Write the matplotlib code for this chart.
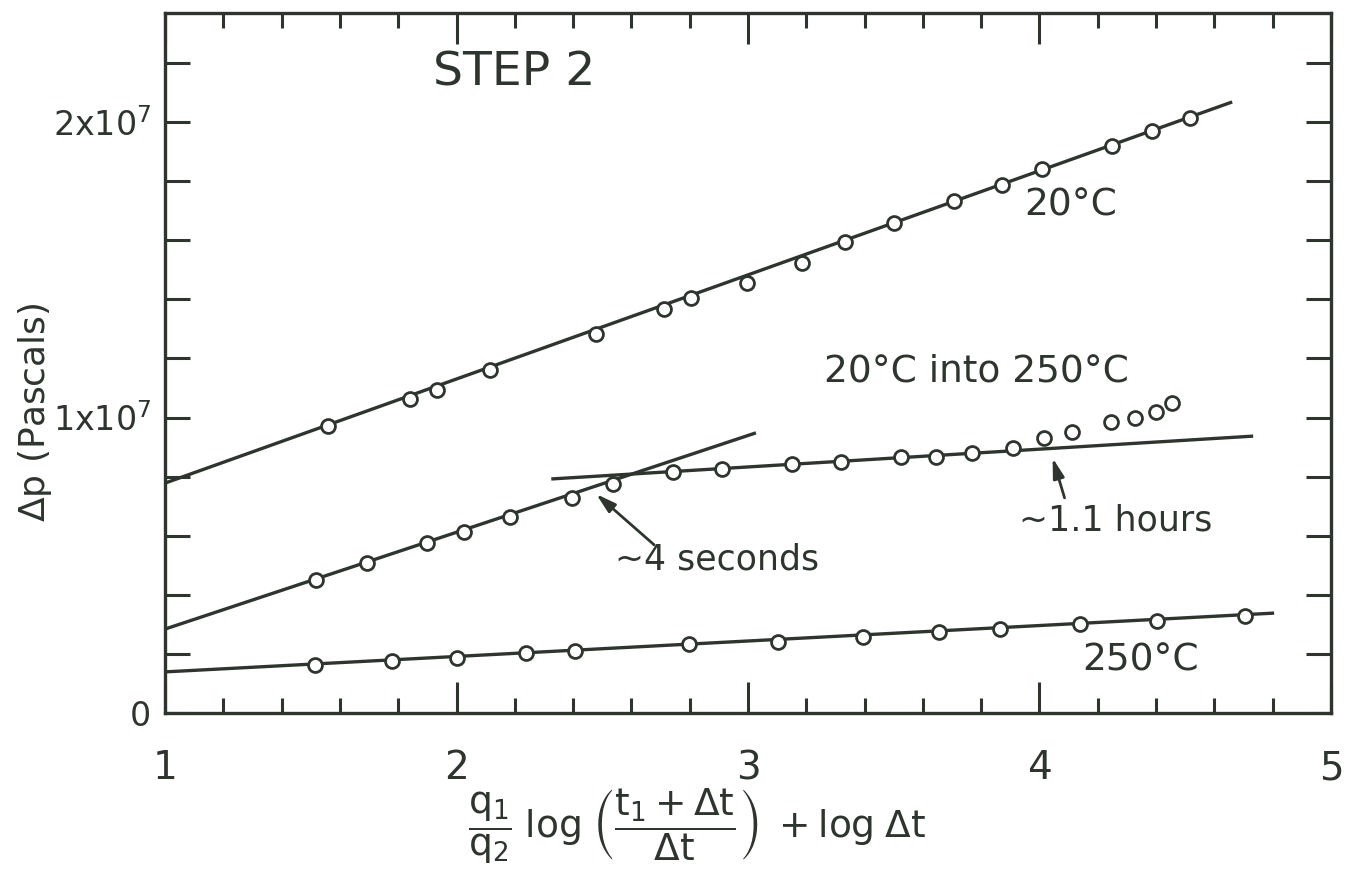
import matplotlib
matplotlib.use("Agg")
import matplotlib.pyplot as plt
import numpy as np

plt.rcParams['font.family'] = ['DejaVu Sans']
plt.rcParams['mathtext.fontset'] = 'dejavusans'

INK = '#2e352f'
E7 = 1e7

# 20 C run (x, dp in units of 1e7 Pa)
x_20 = [1.558, 1.839, 1.932, 2.116, 2.479, 2.712, 2.805, 2.997, 3.185, 3.332,
        3.500, 3.705, 3.873, 4.007, 4.250, 4.387, 4.517]
dp_20 = [0.971, 1.063, 1.093, 1.161, 1.283, 1.367, 1.404, 1.455, 1.523, 1.594,
         1.658, 1.733, 1.787, 1.841, 1.919, 1.970, 2.014]
fit_20_x = [1.0, 4.661]
fit_20_y = [0.778, 2.068]

# 20 C into 250 C run
x_mix = [1.517, 1.692, 1.897, 2.024, 2.182, 2.397, 2.538, 2.743, 2.911, 3.151,
         3.318, 3.524, 3.644, 3.767, 3.908, 4.017]
dp_mix = [0.450, 0.508, 0.575, 0.613, 0.663, 0.728, 0.775, 0.816, 0.826, 0.843,
          0.849, 0.866, 0.866, 0.880, 0.897, 0.931]
x_mix_late = [4.113, 4.247, 4.329, 4.401, 4.455]
dp_mix_late = [0.951, 0.985, 0.998, 1.019, 1.049]
fit_early_x = [1.0, 3.027]
fit_early_y = [0.284, 0.948]
fit_late_x = [2.325, 4.733]
fit_late_y = [0.792, 0.937]

# 250 C run
x_250 = [1.514, 1.777, 2.000, 2.240, 2.408, 2.798, 3.103, 3.394, 3.654, 3.866,
         4.140, 4.404, 4.705]
dp_250 = [0.162, 0.176, 0.186, 0.203, 0.210, 0.234, 0.240, 0.257, 0.274, 0.284,
          0.301, 0.311, 0.328]
fit_250_x = [1.0, 4.805]
fit_250_y = [0.139, 0.338]

y_ticks = [0, 1, 2]
y_ticklabels = ['0', r'$1\mathrm{x}10^7$', r'$2\mathrm{x}10^7$']
x_ticks = [1, 2, 3, 4, 5]


def pa(v):
    return np.asarray(v) * E7


fig = plt.figure(figsize=(13.54, 8.86), dpi=100)
ax = fig.add_axes([0.1219, 0.1953, 0.8611, 0.7900])

line_kw = dict(color=INK, lw=2.4, solid_capstyle='butt', zorder=2)
mark_kw = dict(ls='none', marker='o', ms=10, mfc='white', mec=INK, mew=2.0, zorder=3)

ax.plot(fit_20_x, pa(fit_20_y), **line_kw)
ax.plot(fit_early_x, pa(fit_early_y), **line_kw)
ax.plot(fit_late_x, pa(fit_late_y), **line_kw)
ax.plot(fit_250_x, pa(fit_250_y), **line_kw)

ax.plot(x_20, pa(dp_20), **mark_kw)
ax.plot(x_mix, pa(dp_mix), **mark_kw)
ax.plot(x_mix_late, pa(dp_mix_late), **mark_kw)
ax.plot(x_250, pa(dp_250), **mark_kw)

ax.set_xlim(1, 5)
ax.set_ylim(0, 2.369 * E7)

ax.set_xticks(x_ticks)
ax.set_xticks(np.arange(1, 5.01, 0.2), minor=True)
ax.set_yticks(pa(y_ticks))
ax.set_yticklabels(y_ticklabels)
ax.set_yticks(pa(np.arange(0, 2.37, 0.2)), minor=True)

ax.tick_params(axis='x', which='both', direction='in', top=True, bottom=True,
               color=INK, width=2.2, labelsize=28, labelcolor=INK, pad=26)
ax.tick_params(axis='x', which='major', length=22)
ax.tick_params(axis='x', which='minor', length=11)
ax.tick_params(axis='y', which='both', direction='in', left=True, right=True,
               color=INK, width=2.2, length=18, labelsize=24, labelcolor=INK, pad=10)

for s in ax.spines.values():
    s.set_color(INK)
    s.set_linewidth(2.4)

ax.set_ylabel(r'$\Delta$p (Pascals)', fontsize=26, color=INK)
ax.yaxis.set_label_coords(-0.095, 0.43)

xlab = (r'$\dfrac{\mathrm{q}_1}{\mathrm{q}_2}\;\mathrm{log}\;'
        r'\left(\dfrac{\mathrm{t}_1+\Delta\mathrm{t}}{\Delta\mathrm{t}}\right)'
        r'\;+\mathrm{log}\;\Delta\mathrm{t}$')
fig.text(697 / 1354, 1 - 826 / 886, xlab, fontsize=27, color=INK,
         ha='center', va='center')

txt = dict(color=INK, ha='center', va='center')
ax.text(2.199, 2.166 * E7, 'STEP 2', fontsize=34, **txt)
ax.text(4.106, 1.716 * E7, '20°C', fontsize=27, **txt)
ax.text(3.784, 1.157 * E7, '20°C into 250°C', fontsize=27, **txt)
ax.text(4.346, 0.179 * E7, '250°C', fontsize=27, **txt)
ax.text(2.894, 0.518 * E7, '~4 seconds', fontsize=25, **txt)
ax.text(4.26, 0.653 * E7, '~1.1 hours', fontsize=25, **txt)

arrow_kw = dict(arrowstyle='-|>,head_length=0.7,head_width=0.2', color=INK,
                lw=2.0, mutation_scale=17, shrinkA=0, shrinkB=0)
ax.annotate('', xy=(2.479, 0.741 * E7), xytext=(2.678, 0.569 * E7), arrowprops=arrow_kw)
ax.annotate('', xy=(4.045, 0.863 * E7), xytext=(4.086, 0.728 * E7), arrowprops=arrow_kw)

fig.savefig('out.png', dpi=100, facecolor='white')
